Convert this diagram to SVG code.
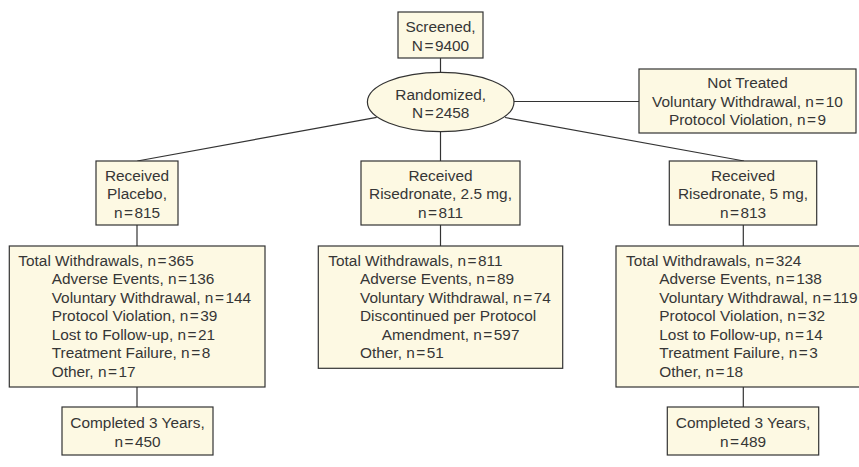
<svg xmlns="http://www.w3.org/2000/svg" width="859" height="467" viewBox="0 0 859 467">
<style>
.b{fill:#fdf9e3;stroke:#333;stroke-width:1.2}
.t{font-family:"Liberation Sans",Arial,sans-serif;font-size:15.4px;fill:#363636}
.c{text-anchor:middle}
.l{fill:none;stroke:#333;stroke-width:1.2}
</style>
<rect width="859" height="467" fill="#fff"/>
<g id="connectors">
<line class="l" x1="440.5" y1="58" x2="440.5" y2="72.5"/>
<line class="l" x1="514" y1="101.5" x2="639" y2="101.5"/>
<line class="l" x1="376.7" y1="117.3" x2="137.3" y2="161"/>
<line class="l" x1="440.5" y1="131.5" x2="440.5" y2="161"/>
<line class="l" x1="505" y1="117.5" x2="744" y2="161"/>
<line class="l" x1="137" y1="225" x2="137" y2="246"/>
<line class="l" x1="440.5" y1="225" x2="440.5" y2="246"/>
<line class="l" x1="743.3" y1="225" x2="743.3" y2="246"/>
<line class="l" x1="137" y1="387" x2="137" y2="407"/>
<line class="l" x1="743.3" y1="387" x2="743.3" y2="407"/>
</g>
<g id="screened">
<rect class="b" x="398" y="12" width="85" height="46"/>
<text class="t c" x="440.5" y="32">Screened,</text>
<text class="t c" x="440.5" y="50.5">N<tspan dx="1.5">=</tspan><tspan dx="1.5">9400</tspan></text>
</g>
<g id="randomized">
<ellipse class="b" cx="440.7" cy="102" rx="73.3" ry="29.7"/>
<text class="t c" x="440.7" y="100">Randomized,</text>
<text class="t c" x="440.7" y="118.3">N<tspan dx="1.5">=</tspan><tspan dx="1.5">2458</tspan></text>
</g>
<g id="not-treated">
<rect class="b" x="639" y="69" width="217" height="64"/>
<text class="t c" x="747.5" y="88.3">Not Treated</text>
<text class="t c" x="747.5" y="106.7">Voluntary Withdrawal, n<tspan dx="1.5">=</tspan><tspan dx="1.5">10</tspan></text>
<text class="t c" x="747.5" y="125">Protocol Violation, n<tspan dx="1.5">=</tspan><tspan dx="1.5">9</tspan></text>
</g>
<g id="placebo">
<rect class="b" x="96" y="161" width="82" height="64"/>
<text class="t c" x="137" y="181">Received</text>
<text class="t c" x="137" y="199.3">Placebo,</text>
<text class="t c" x="137" y="217.6">n<tspan dx="1.5">=</tspan><tspan dx="1.5">815</tspan></text>
</g>
<g id="rise25">
<rect class="b" x="361" y="161" width="159" height="64"/>
<text class="t c" x="440.5" y="181">Received</text>
<text class="t c" x="440.5" y="199.3">Risedronate, 2.5 mg,</text>
<text class="t c" x="440.5" y="217.6">n<tspan dx="1.5">=</tspan><tspan dx="1.5">811</tspan></text>
</g>
<g id="rise5">
<rect class="b" x="669.3" y="161" width="147.4" height="64"/>
<text class="t c" x="743" y="181">Received</text>
<text class="t c" x="743" y="199.3">Risedronate, 5 mg,</text>
<text class="t c" x="743" y="217.6">n<tspan dx="1.5">=</tspan><tspan dx="1.5">813</tspan></text>
</g>
<g id="withdraw-placebo">
<rect class="b" x="9.3" y="246" width="255.7" height="141"/>
<text class="t" x="18.3" y="266">Total Withdrawals, n<tspan dx="1.5">=</tspan><tspan dx="1.5">365</tspan></text>
<text class="t" x="51.7" y="284.45">Adverse Events, n<tspan dx="1.5">=</tspan><tspan dx="1.5">136</tspan></text>
<text class="t" x="51.7" y="302.9">Voluntary Withdrawal, n<tspan dx="1.5">=</tspan><tspan dx="1.5">144</tspan></text>
<text class="t" x="51.7" y="321.35">Protocol Violation, n<tspan dx="1.5">=</tspan><tspan dx="1.5">39</tspan></text>
<text class="t" x="51.7" y="339.8">Lost to Follow-up, n<tspan dx="1.5">=</tspan><tspan dx="1.5">21</tspan></text>
<text class="t" x="51.7" y="358.25">Treatment Failure, n<tspan dx="1.5">=</tspan><tspan dx="1.5">8</tspan></text>
<text class="t" x="51.7" y="376.7">Other, n<tspan dx="1.5">=</tspan><tspan dx="1.5">17</tspan></text>
</g>
<g id="withdraw-rise25">
<rect class="b" x="318.3" y="246" width="244.4" height="122.3"/>
<text class="t" x="328.3" y="266">Total Withdrawals, n<tspan dx="1.5">=</tspan><tspan dx="1.5">811</tspan></text>
<text class="t" x="360" y="284.45">Adverse Events, n<tspan dx="1.5">=</tspan><tspan dx="1.5">89</tspan></text>
<text class="t" x="360" y="302.9">Voluntary Withdrawal, n<tspan dx="1.5">=</tspan><tspan dx="1.5">74</tspan></text>
<text class="t" x="360" y="321.35">Discontinued per Protocol</text>
<text class="t" x="381.7" y="339.8">Amendment, n<tspan dx="1.5">=</tspan><tspan dx="1.5">597</tspan></text>
<text class="t" x="360" y="358.25">Other, n<tspan dx="1.5">=</tspan><tspan dx="1.5">51</tspan></text>
</g>
<g id="withdraw-rise5">
<rect class="b" x="616" y="246" width="260" height="141"/>
<text class="t" x="626" y="266">Total Withdrawals, n<tspan dx="1.5">=</tspan><tspan dx="1.5">324</tspan></text>
<text class="t" x="659.3" y="284.45">Adverse Events, n<tspan dx="1.5">=</tspan><tspan dx="1.5">138</tspan></text>
<text class="t" x="659.3" y="302.9">Voluntary Withdrawal, n<tspan dx="1.5">=</tspan><tspan dx="1.5">119</tspan></text>
<text class="t" x="659.3" y="321.35">Protocol Violation, n<tspan dx="1.5">=</tspan><tspan dx="1.5">32</tspan></text>
<text class="t" x="659.3" y="339.8">Lost to Follow-up, n<tspan dx="1.5">=</tspan><tspan dx="1.5">14</tspan></text>
<text class="t" x="659.3" y="358.25">Treatment Failure, n<tspan dx="1.5">=</tspan><tspan dx="1.5">3</tspan></text>
<text class="t" x="659.3" y="376.7">Other, n<tspan dx="1.5">=</tspan><tspan dx="1.5">18</tspan></text>
</g>
<g id="completed-placebo">
<rect class="b" x="62" y="407" width="151" height="48"/>
<text class="t c" x="137.5" y="428.3">Completed 3 Years,</text>
<text class="t c" x="137.5" y="446.7">n<tspan dx="1.5">=</tspan><tspan dx="1.5">450</tspan></text>
</g>
<g id="completed-rise5">
<rect class="b" x="667.3" y="407" width="151.4" height="48"/>
<text class="t c" x="743" y="428.3">Completed 3 Years,</text>
<text class="t c" x="743" y="446.7">n<tspan dx="1.5">=</tspan><tspan dx="1.5">489</tspan></text>
</g>
</svg>
